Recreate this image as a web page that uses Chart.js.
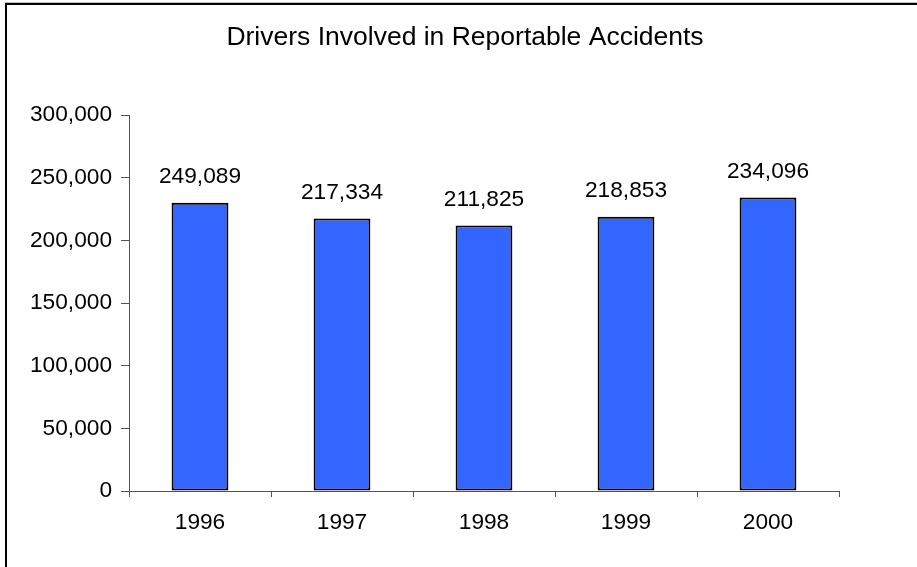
<!DOCTYPE html>
<html lang="en">
<head>
    <meta charset="UTF-8">
    <title>Drivers Involved in Reportable Accidents</title>
    <script src="https://cdn.jsdelivr.net/npm/chart.js@4.4.0/dist/chart.umd.min.js"></script>
    <style>
        html, body { margin: 0; padding: 0; background: #fff; }
        #wrap { position: relative; width: 917px; height: 567px; }
    </style>
</head>
<body>
    <div id="wrap">
        <canvas id="chart" width="917" height="567"></canvas>
    </div>

    <script>
        const years = ['1996', '1997', '1998', '1999', '2000'];
        // bar heights as drawn in the picture
        const barValues = [230000, 217334, 211825, 218853, 234096];
        // numbers printed above the bars
        const labelValues = [249089, 217334, 211825, 218853, 234096];
        const yTicks = [0, 50000, 100000, 150000, 200000, 250000, 300000];
        const titleText = 'Drivers Involved in Reportable Accidents';

        const FONT = '"Liberation Sans", Arial, sans-serif';

        // frame, title and value labels
        const extras = {
            id: 'extras',
            beforeDraw(chart) {
                const ctx = chart.ctx;
                ctx.save();
                ctx.fillStyle = '#fff';
                ctx.fillRect(0, 0, chart.width, chart.height);
                ctx.fillStyle = '#bbb';
                ctx.fillRect(5, 2, chart.width, 1);
                ctx.fillStyle = '#000';
                ctx.fillRect(5, 3, chart.width, 2);
                ctx.fillRect(5, 3, 2, chart.height);
                ctx.restore();
            },
            afterDatasetsDraw(chart) {
                const ctx = chart.ctx;
                ctx.save();
                ctx.fillStyle = '#000';
                ctx.font = '26.5px ' + FONT;
                ctx.textAlign = 'center';
                ctx.textBaseline = 'alphabetic';
                ctx.fillText(titleText, 465, 45);

                ctx.font = '22.7px ' + FONT;
                const meta = chart.getDatasetMeta(0);
                meta.data.forEach((bar, i) => {
                    ctx.fillText(labelValues[i].toLocaleString('en-US'), bar.x, bar.y - 20);
                });
                ctx.restore();
            }
        };

        const ctx = document.getElementById('chart').getContext('2d');
        const myChart = new Chart(ctx, {
            type: 'bar',
            data: {
                labels: years,
                datasets: [
                    {
                        data: barValues,
                        backgroundColor: '#3366ff',
                        borderColor: '#000',
                        borderWidth: 2,
                        borderSkipped: false,
                        categoryPercentage: 1.0,
                        barPercentage: 0.4
                    }
                ]
            },
            options: {
                responsive: false,
                animation: false,
                layout: {
                    padding: { left: 0, top: 115, right: 78, bottom: 0 }
                },
                plugins: {
                    legend: { display: false },
                    title: { display: false },
                    tooltip: { enabled: false }
                },
                scales: {
                    x: {
                        offset: true,
                        grid: {
                            offset: true,
                            drawOnChartArea: false,
                            drawTicks: true,
                            tickLength: 6,
                            color: '#555'
                        },
                        border: { display: true, color: '#555', width: 1 },
                        ticks: {
                            color: '#000',
                            padding: 12,
                            font: { family: FONT, size: 22.7 }
                        },
                        afterFit(scale) { scale.height = 76; }
                    },
                    y: {
                        min: 0,
                        max: 300000,
                        afterBuildTicks(scale) {
                            scale.ticks = yTicks.map(v => ({ value: v }));
                        },
                        grid: {
                            drawOnChartArea: false,
                            drawTicks: true,
                            tickLength: 8,
                            color: '#555'
                        },
                        border: { display: true, color: '#555', width: 1 },
                        ticks: {
                            color: '#000',
                            padding: 9,
                            font: { family: FONT, size: 22.7 },
                            callback: function(value) {
                                return value.toLocaleString('en-US');
                            }
                        },
                        afterFit(scale) { scale.width = 129; }
                    }
                }
            },
            plugins: [extras]
        });
    </script>
</body>
</html>
